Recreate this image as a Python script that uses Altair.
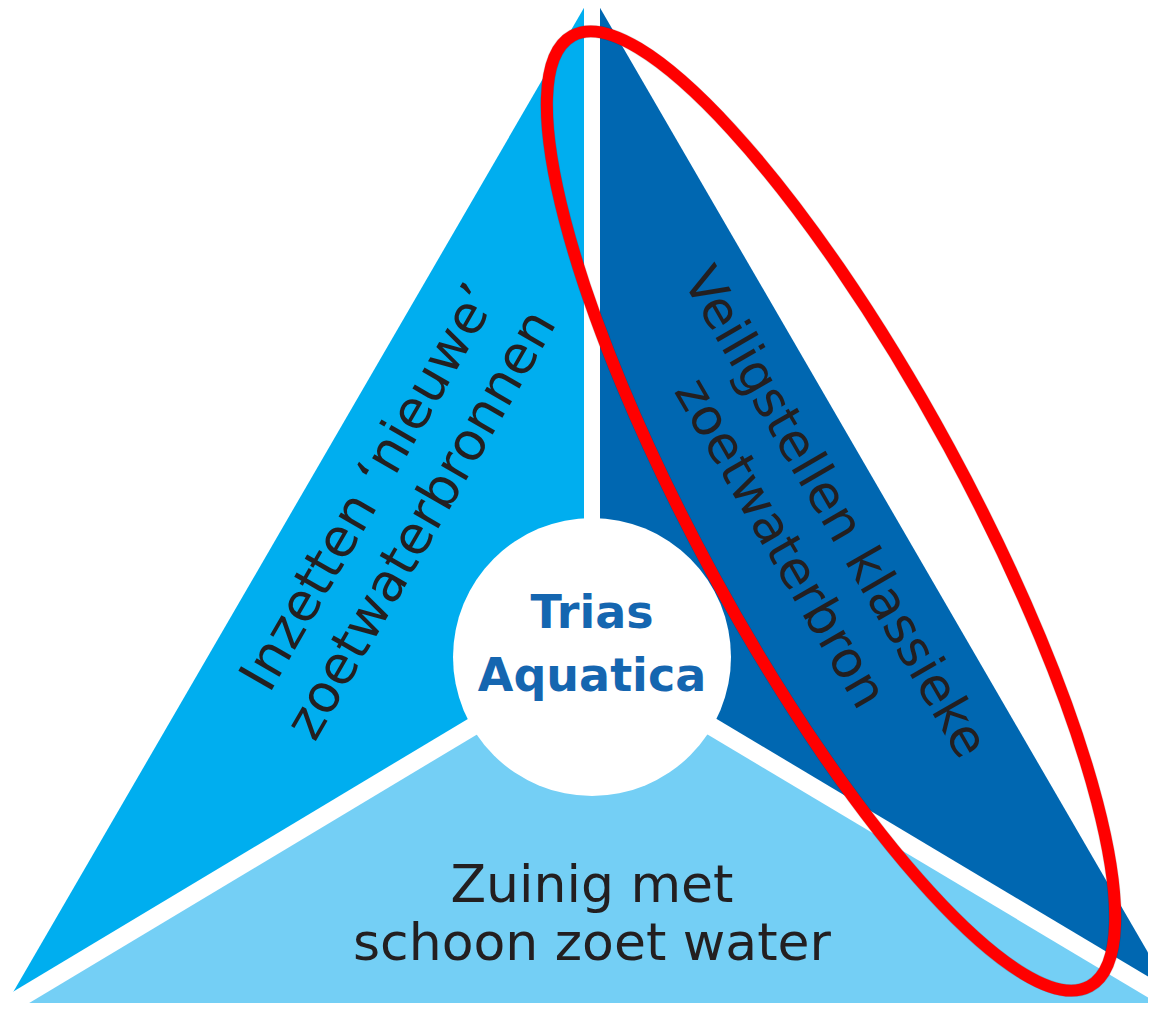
import altair as alt

# ---------------- data (image pixel coordinates) ----------------
# three coloured regions of the triangle
LEFT_X = [592, 4, 592]
LEFT_Y = [-6, 1008, 655]
RIGHT_X = [592, 1179, 592]
RIGHT_Y = [-6, 1006, 655]
BOTTOM_X = [592, 4, -9, 1193, 1179]
BOTTOM_Y = [655, 1008, 1030, 1030, 1006]
REGION_COLORS = ["#00AEEF", "#0067B1", "#74CFF5"]

# white separators radiating from the centre
SEP_X0 = [592, 592, 592]
SEP_Y0 = [655, 655, 655]
SEP_X1 = [592, -40, 1220]
SEP_Y1 = [-40, 1034, 1030]
SEP_W = [16, 18, 18]

# centre disc
DISC_X = [592]
DISC_Y = [657]

# labels
LEFT_LABELS = ["Inzetten \u2018nieuwe\u2019", "zoetwaterbronnen"]
LEFT_LX = [370, 422]
LEFT_LY = [488, 525]
RIGHT_LABELS = ["Veiligstellen klassieke", "zoetwaterbron"]
RIGHT_LX = [834, 779]
RIGHT_LY = [513, 544]
BOTTOM_LABELS = ["Zuinig met", "schoon zoet water"]
BOTTOM_LX = [592, 592]
BOTTOM_LY = [902, 960]
CENTER_LABELS = ["Trias", "Aquatica"]
CENTER_LX = [592, 592]
CENTER_LY = [628, 691]

# red highlight ellipse (centre)
ELLIPSE_X = [831]
ELLIPSE_Y = [511]

# ---------------- build ----------------
def polygon(xs, ys, color):
    ring = [[x, y] for x, y in zip(xs, ys)]
    ring.append(ring[0])
    return {"type": "Feature", "properties": {"color": color},
            "geometry": {"type": "Polygon", "coordinates": [ring]}}

regions = [
    polygon(LEFT_X, LEFT_Y, REGION_COLORS[0]),
    polygon(RIGHT_X, RIGHT_Y, REGION_COLORS[1]),
    polygon(BOTTOM_X, BOTTOM_Y, REGION_COLORS[2]),
]

seps = [
    {"type": "Feature", "properties": {"w": w},
     "geometry": {"type": "LineString", "coordinates": [[a, b], [c, d]]}}
    for a, b, c, d, w in zip(SEP_X0, SEP_Y0, SEP_X1, SEP_Y1, SEP_W)
]

def rows(labels, xs, ys):
    return [{"label": l, "x": x, "y": y} for l, x, y in zip(labels, xs, ys)]

region_layer = alt.Chart(alt.Data(values=regions)).mark_geoshape(strokeWidth=0).encode(
    fill=alt.Fill("properties.color:N", scale=None)
)

sep_layer = alt.Chart(alt.Data(values=seps)).mark_geoshape(
    filled=False, stroke="white", strokeCap="butt"
).encode(strokeWidth=alt.StrokeWidth("properties.w:Q", scale=None))

disc_layer = alt.Chart(alt.Data(values=[{"x": x, "y": y} for x, y in zip(DISC_X, DISC_Y)])).mark_circle(
    size=278 * 278, color="white", opacity=1
).encode(longitude="x:Q", latitude="y:Q")

FONT = "DejaVu Sans"
DARK = "#231F20"

left_text = alt.Chart(alt.Data(values=rows(LEFT_LABELS, LEFT_LX, LEFT_LY))).mark_text(
    font=FONT, fontSize=53, color=DARK, angle=300, align="center", baseline="middle"
).encode(longitude="x:Q", latitude="y:Q", text="label:N")

right_text = alt.Chart(alt.Data(values=rows(RIGHT_LABELS, RIGHT_LX, RIGHT_LY))).mark_text(
    font=FONT, fontSize=51, color=DARK, angle=60, align="center", baseline="middle"
).encode(longitude="x:Q", latitude="y:Q", text="label:N")

bottom_text = alt.Chart(alt.Data(values=rows(BOTTOM_LABELS, BOTTOM_LX, BOTTOM_LY))).mark_text(
    font=FONT, fontSize=52, color=DARK, align="center", baseline="alphabetic"
).encode(longitude="x:Q", latitude="y:Q", text="label:N")

center_text = alt.Chart(alt.Data(values=rows(CENTER_LABELS, CENTER_LX, CENTER_LY))).mark_text(
    font=FONT, fontSize=46, fontWeight="bold", color="#1566B0", align="center", baseline="alphabetic"
).encode(longitude="x:Q", latitude="y:Q", text="label:N")

SEMI_MAJOR = 541
RATIO = 134 / SEMI_MAJOR
ELLIPSE_PATH = (
    f"M -1 0 A 1 {RATIO:.4f} 0 1 1 1 0 A 1 {RATIO:.4f} 0 1 1 -1 0 Z"
)
ELL_SIZE = (2 * SEMI_MAJOR) ** 2
ELL_ANGLE = 61.45

ell_rows = [{"x": x, "y": y} for x, y in zip(ELLIPSE_X, ELLIPSE_Y)]
shadow_layer = alt.Chart(alt.Data(values=ell_rows)).mark_point(
    shape=ELLIPSE_PATH, size=ELL_SIZE, angle=ELL_ANGLE, filled=False,
    stroke="#000000", strokeWidth=13, opacity=0.16, xOffset=3, yOffset=4
).encode(longitude="x:Q", latitude="y:Q")

ellipse_layer = alt.Chart(alt.Data(values=ell_rows)).mark_point(
    shape=ELLIPSE_PATH, size=ELL_SIZE, angle=ELL_ANGLE, filled=False,
    stroke="#FF0000", strokeWidth=12, opacity=1
).encode(longitude="x:Q", latitude="y:Q")

chart = alt.layer(
    region_layer, sep_layer, disc_layer,
    left_text, right_text, bottom_text, center_text,
    shadow_layer, ellipse_layer,
).project(
    type="identity", scale=1, translate=[-8, -8]
).properties(
    width=1140, height=995, padding=0,
    autosize=alt.AutoSizeParams(type="none"),
    background="white",
).configure_view(stroke=None)

chart.save("out.html", embed_options={"renderer": "svg", "actions": False})
